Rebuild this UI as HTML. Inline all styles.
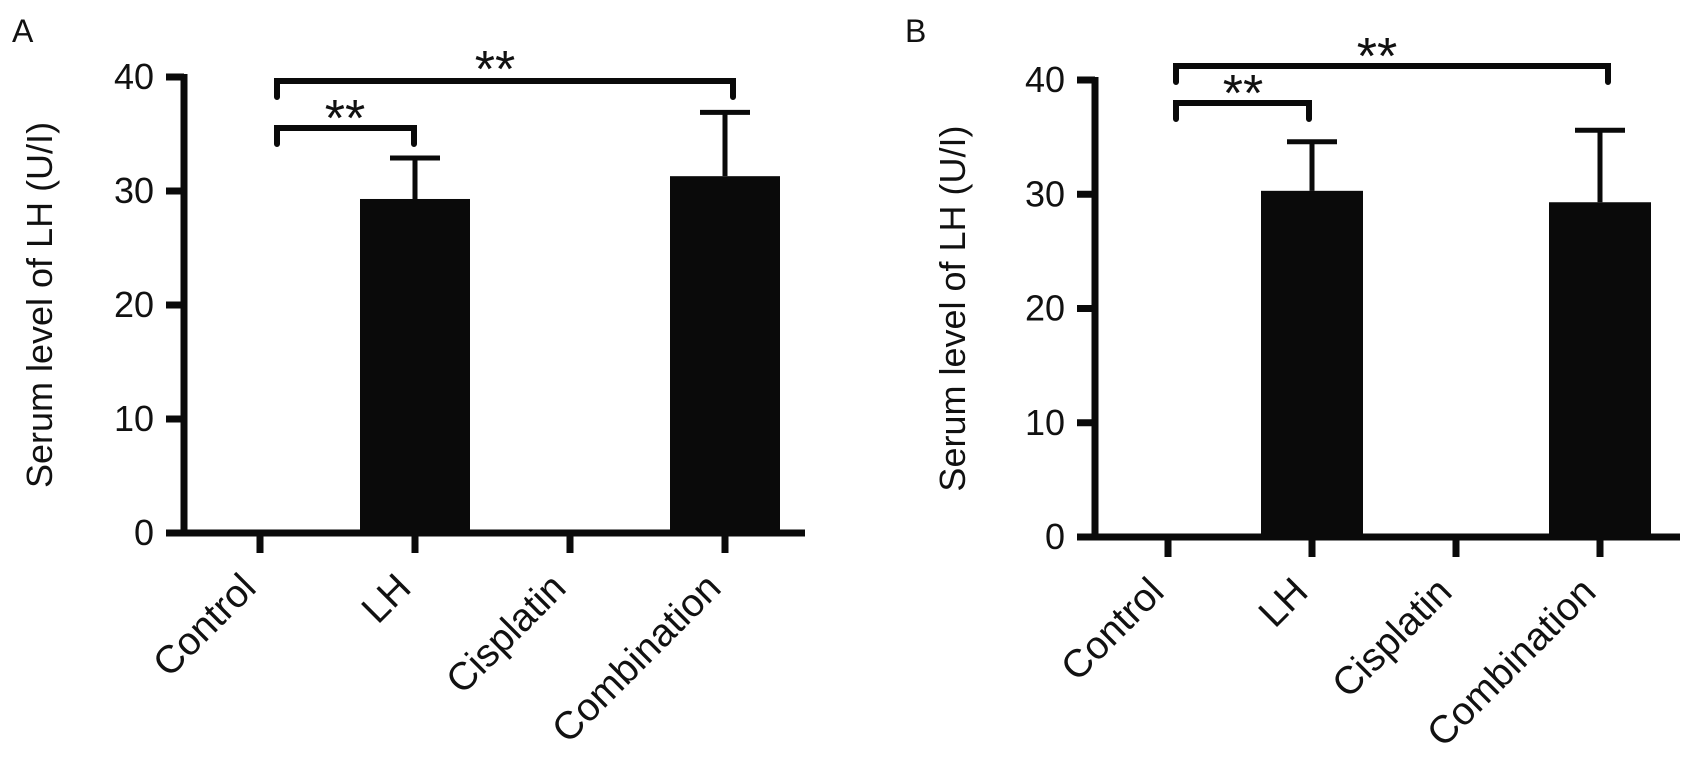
<!DOCTYPE html>
<html><head><meta charset="utf-8"><style>
html,body{margin:0;padding:0;background:#fff;}
svg{display:block;font-family:"Liberation Sans",Arial,sans-serif;}
</style></head><body>
<svg id="chart" width="1687" height="758" viewBox="0 0 1687 758"></svg>
<script>
const categories = ["Control","LH","Cisplatin","Combination"];
const meansA = [0, 29.3, 0, 31.3];
const errA = [0, 3.6, 0, 5.6];
const meansB = [0, 30.3, 0, 29.3];
const errB = [0, 4.3, 0, 6.3];
const yTicks = [0,10,20,30,40];
const NS="http://www.w3.org/2000/svg";
const svg=document.getElementById('chart');
function el(tag,attrs,parent){const e=document.createElementNS(NS,tag);for(const k in attrs)e.setAttribute(k,attrs[k]);(parent||svg).appendChild(e);return e;}

function panel(cfg){
  const g=el('g',{});
  
  
  const y=v=>cfg.y0-(v/40)*(cfg.y0-cfg.y40);
  const x=i=>cfg.x0+i*cfg.step;
  const L=el('text',{x:cfg.letterX,y:42,'font-size':32,fill:'#111'},g);L.textContent=cfg.letter;
  
  
  cfg.means.forEach((m,i)=>{
    if(m<=0)return;
    const b=el('rect',{x:x(i)-cfg.bw/2,y:y(m),width:cfg.bw,height:cfg.y0-y(m),fill:'#0a0a0a'},g);
    
    
    const top=y(m+cfg.err[i]);
    const e=el('path',{d:`M${x(i)},${y(m)} V${top} M${x(i)-25},${top} H${x(i)+25}`,stroke:'#0a0a0a','stroke-width':5,fill:'none'},g);
    
    
  });
  const ax=el('path',{d:`M${cfg.ax},${cfg.y40-3} V${cfg.y0} M${cfg.ax-18},${cfg.y0} H${cfg.xEnd}`,stroke:'#0a0a0a','stroke-width':7,fill:'none'},g);
  
  
  yTicks.forEach(t=>{
    const tk=el('line',{x1:cfg.ax-18,x2:cfg.ax,y1:y(t),y2:y(t),stroke:'#0a0a0a','stroke-width':7},g);
    
    
    const tl=el('text',{x:cfg.ax-30,y:y(t)+12,'font-size':36,'text-anchor':'end',fill:'#111'},g);
    tl.textContent=t;
    
    
  });
  categories.forEach((c,i)=>{
    const tk=el('line',{x1:x(i),x2:x(i),y1:cfg.y0,y2:cfg.y0+20,stroke:'#0a0a0a','stroke-width':7},g);
    
    
    const tx=x(i)-2, ty=cfg.y0+57;
    const tl=el('text',{x:tx,y:ty,'font-size':39,'text-anchor':'end',fill:'#111',transform:`rotate(-45 ${tx} ${ty})`},g);
    tl.textContent=c;
    
    
  });
  const yt=el('text',{x:cfg.titleX,y:(cfg.y0+cfg.y40)/2,'font-size':36,'text-anchor':'middle',fill:'#111',transform:`rotate(-90 ${cfg.titleX} ${(cfg.y0+cfg.y40)/2})`},g);
  yt.textContent='Serum level of LH (U/I)';
  
  
  cfg.brackets.forEach(br=>{
    const p=el('path',{d:`M${br.x1},${br.y+16} V${br.y} H${br.x2} V${br.y+16}`,stroke:'#0a0a0a','stroke-width':6,fill:'none','stroke-linecap':'round'},g);
    
    
    const s=el('text',{x:br.sx,y:br.sy+12,'font-size':52,'text-anchor':'middle',fill:'#111'},g);
    s.textContent='**';
    
    
  });
}
panel({name:'panel-a',letter:'A',letterX:12,ax:184,x0:260,step:155,bw:110,y0:533,y40:77,xEnd:805,titleX:52,means:meansA,err:errA,
  brackets:[{x1:277,x2:733,y:81,sx:495,sy:75},{x1:277,x2:414,y:128,sx:345,sy:124}]});
panel({name:'panel-b',letter:'B',letterX:905,ax:1095,x0:1168,step:144,bw:102,y0:537,y40:80,xEnd:1680,titleX:965,means:meansB,err:errB,
  brackets:[{x1:1176,x2:1608,y:66,sx:1377,sy:62},{x1:1176,x2:1309,y:103,sx:1243,sy:99}]});
</script>
</body></html>
